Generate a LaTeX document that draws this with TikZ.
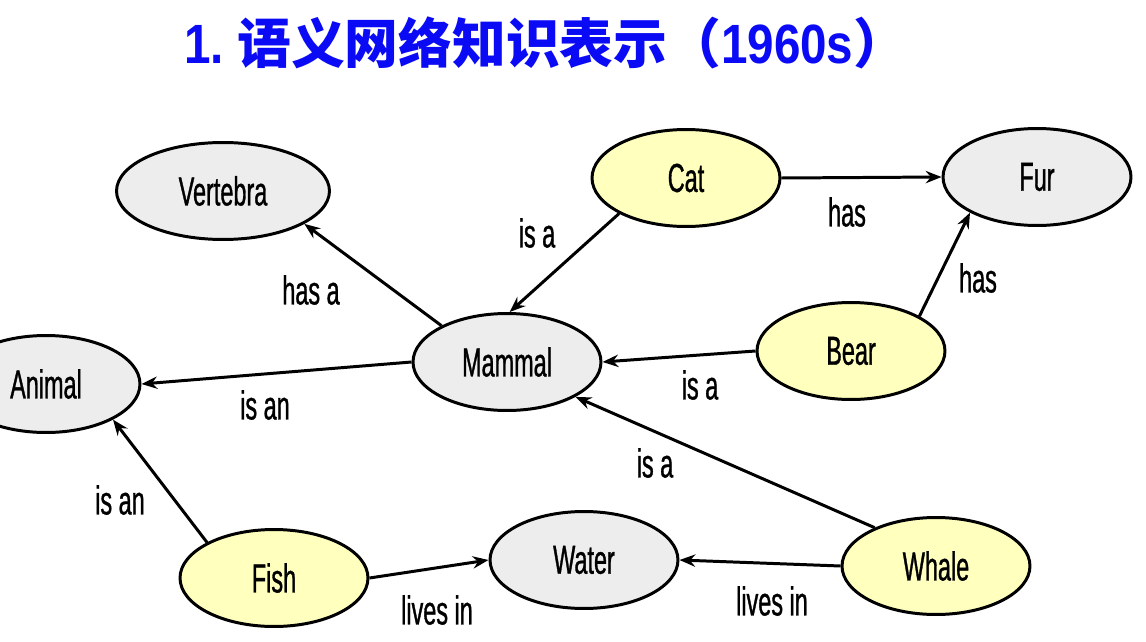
\documentclass[tikz,border=0pt]{standalone}
\usepackage{fontspec}
\usepackage{xcolor}
\usepackage{tikz}
\usetikzlibrary{shapes.geometric,arrows.meta,positioning}
\newfontfamily\cjk{Noto Sans CJK SC}
\newfontfamily\narrowsans[FakeStretch=0.58,FakeBold=0.8]{Liberation Sans}
\newfontfamily\narrowbold[FakeStretch=0.86]{Liberation Sans Bold}
\definecolor{conceptgray}{RGB}{237,237,237}
\definecolor{animalyellow}{RGB}{255,255,190}
\definecolor{titleblue}{RGB}{10,10,245}

\begin{document}
\begin{tikzpicture}[x=0.02cm, y=-0.02cm,
    concept/.style={ellipse, draw, line width=1.7pt, fill=conceptgray,
        minimum width=3.76cm, minimum height=1.94cm, inner sep=0pt,
        font=\narrowsans\fontsize{23}{24}\selectfont},
    instance/.style={concept, fill=animalyellow},
    rel/.style={-{Stealth[length=9pt,width=7pt,inset=3pt]}, line width=1.7pt},
    lbl/.style={font=\narrowsans\fontsize{23}{24}\selectfont, inner sep=0pt}]
\useasboundingbox (0,0) rectangle (1146,642);
% Title
\node[anchor=west, inner sep=0pt, text=titleblue, font=\cjk\bfseries\fontsize{30.6}{32}\selectfont] (title) at (184,43)
    {{\narrowbold\fontsize{31.5}{32}\selectfont 1.\ }语义网络知识表示（{\narrowbold\fontsize{31.5}{32}\selectfont 1960s}）};
% Concepts (grey) and animals (yellow)
\node[concept, minimum width=4.26cm] (vertebra) at (223,191) {Vertebra};
\node[instance] (cat) at (686,178) {Cat};
\node[concept] (fur) at (1037,177) {Fur};
\node[concept] (mammal) at (507,362) {Mammal};
\node[instance] (bear) at (851,351) {Bear};
\node[concept] (animal) at (46,384) {Animal};
\node[instance] (fish) at (274,578) {Fish};
\node[concept] (water) at (584,560) {Water};
\node[instance] (whale) at (936,566) {Whale};
% Relations
\draw[rel] (mammal.151) -- (vertebra.-22);
\draw[rel] (cat.208) -- (mammal.87);
\draw[rel] (cat.east) -- (fur.west);
\draw[rel] (bear.27) -- (fur.208);
\draw[rel] (bear.west) -- (mammal.east);
\draw[rel] (mammal.west) -- (animal.east);
\draw[rel] (fish.152) -- (animal.-28);
\draw[rel] (fish.east) -- (water.west);
\draw[rel] (whale.west) -- (water.east);
\draw[rel] (whale.148) -- (mammal.-27);
% Relation labels
\node[lbl] (l-hasa) at (311,290) {has a};
\node[lbl] (l-catisa) at (537,233) {is a};
\node[lbl] (l-cathas) at (847,212) {has};
\node[lbl] (l-bearhas) at (978,278) {has};
\node[lbl] (l-bearisa) at (700,385) {is a};
\node[lbl] (l-mammalisan) at (265,405) {is an};
\node[lbl] (l-fishisan) at (120,500) {is an};
\node[lbl] (l-fishlives) at (437,610) {lives in};
\node[lbl] (l-whalelives) at (772,601) {lives in};
\node[lbl] (l-whaleisa) at (655,463) {is a};
\end{tikzpicture}
\end{document}
